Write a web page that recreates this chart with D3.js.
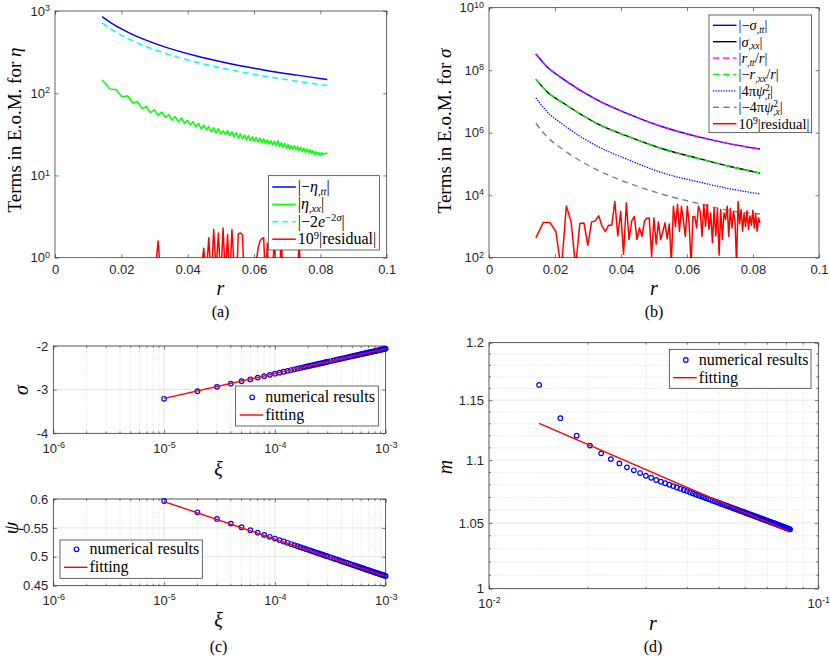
<!DOCTYPE html>
<html>
<head>
<meta charset="utf-8">
<script src="https://cdn.jsdelivr.net/npm/d3@7"></script>
<style>
  body { margin: 0; background: #fff; }
</style>
</head>
<body>
<div id="fig"></div>
<script>
// ---------- data ----------
// common r grid of the simulation (panels a, b, d)
const rGrid = [0.01420,0.01647,0.01846,0.02026,0.02191,0.02344,0.02488,0.02624,0.02753,0.02877,
  0.02995,0.03109,0.03219,0.03326,0.03428,0.03528,0.03626,0.03720,0.03813,0.03903,
  0.03991,0.04077,0.04162,0.04244,0.04326,0.04405,0.04484,0.04560,0.04636,0.04711,
  0.04784,0.04856,0.04927,0.04997,0.05066,0.05134,0.05202,0.05268,0.05334,0.05399,
  0.05463,0.05526,0.05588,0.05650,0.05712,0.05772,0.05832,0.05891,0.05950,0.06008,
  0.06066,0.06123,0.06180,0.06236,0.06291,0.06346,0.06401,0.06455,0.06509,0.06562,
  0.06615,0.06667,0.06719,0.06771,0.06822,0.06872,0.06923,0.06973,0.07022,0.07072,
  0.07121,0.07170,0.07218,0.07266,0.07314,0.07361,0.07408,0.07455,0.07502,0.07548,
  0.07594,0.07639,0.07685,0.07730,0.07775,0.07819,0.07864,0.07908,0.07952,0.07995,
  0.08039,0.08082,0.08125,0.08168,0.08210];

// (a) |eta_xx| (green, jagged)
const etaXX = [146,113,110,90,93,76,79,65,69,58,
  63,54,59,51,55,47,52,45,50,43,
  47,41,45,39,43,37,41,36,39,34,
  38,33,37,32,35,31.5,35,30.5,34,29.5,
  33,28.5,32,28,31,27,30.5,26.5,29.5,26,
  29,25.5,28.5,25,28,24.5,27,24,26.5,23.5,
  26,23,26.5,22.5,25,22,24.5,21.5,24,21,
  23,21,23,20.5,22.5,20,22,19.5,21.5,19,
  21,19,20.5,18.5,20,18,19.5,18,19,17.5,
  19,18,18.5,18.5,19];
// (a) 10^9 |residual|
const residualEta = [0.3,0.5,0.2,0.4,0.6,0.3,0.5,0.2,0.4,0.3,
  0.5,1.6,0.4,0.2,0.5,0.3,0.6,0.2,0.4,0.5,
  0.3,0.6,0.2,0.4,0.5,0.7,1.3,0.6,1.75,0.5,
  2.2,0.7,2.0,0.5,2.3,0.6,1.9,0.5,2.2,0.8,
  0.4,1.95,2.0,1.9,0.5,0.3,0.5,0.2,0.4,0.6,
  0.9,1.3,1.6,1.7,1.75,0.5,1.5,0.3,0.5,0.7,
  1.8,0.5,0.4,0.6,2.0,0.5,0.3,0.6,0.4,0.5,
  0.3,0.6,0.4,0.3,0.5,1.8,0.4,0.3,0.5,0.2,
  0.6,0.4,0.3,0.5,0.7,0.3,0.4,0.6,0.2,0.5,
  0.4,0.3,0.6,0.4,0.5];

// smooth curves, sampled at a few r
const rSmooth = [0.0142,0.0175,0.0225,0.0326,0.0427,0.0528,0.0629,0.073,0.0821];
const etaTT = [852,691,538,371,283,229,192,166,147];
const twoExpSigma = [715,580,452,312,238,193,162,140,124];
const sigmaTT = [3.3e8,1.32e8,5.2e7,1.14e7,3.8e6,1.52e6,7.6e5,4.4e5,3.0e5];
const sigmaXX = [5.2e7,2.1e7,8.9e6,2.0e6,7.2e5,3.0e5,1.55e5,8.3e4,5.1e4];
const rTToverR = [3.3e8,1.32e8,5.2e7,1.14e7,3.8e6,1.52e6,7.6e5,4.4e5,3.0e5];
const rXXoverR = [5.2e7,2.1e7,8.9e6,2.0e6,7.2e5,3.0e5,1.55e5,8.3e4,5.1e4];
const psiT2 = [1.3e7,4.8e6,1.8e6,3.8e5,1.3e5,5.1e4,2.75e4,1.6e4,1.1e4];
const psiX2 = [2.0e6,7.6e5,2.86e5,6.6e4,2.34e4,1.05e4,5.6e3,3.2e3,2.5e3];

// (b) 10^9 |residual|
const residualSigma = [430,1350,1350,690,40,4500,1400,50,1250,1300,
  250,1400,1500,2200,1000,690,1100,1100,6300,500,
  3000,130,5600,380,1500,2100,380,900,480,1500,
  1850,1850,110,1850,270,1400,380,690,1300,400,
  1200,70,4400,1000,5000,690,4400,1500,480,4400,
  1200,60,2100,2100,900,4400,3000,480,5000,1000,
  5000,800,2700,300,3800,500,3500,120,3500,380,
  2700,1700,4400,480,3800,900,3000,1500,60,6300,
  1200,3500,700,2600,1000,3200,800,2200,1100,3300,
  900,2500,700,1900,1300];

// (c) sigma and psi against xi
const xi = [1e-5,2e-5,3e-5,4e-5,5e-5,6e-5,7e-5,8e-5,9e-5,1.0e-4,
  1.1e-4,1.2e-4,1.3e-4,1.4e-4,1.5e-4,1.6e-4,1.7e-4,1.8e-4,1.9e-4,2.0e-4,
  2.1e-4,2.2e-4,2.3e-4,2.4e-4,2.5e-4,2.6e-4,2.7e-4,2.8e-4,2.9e-4,3.0e-4,
  3.2e-4,3.4e-4,3.6e-4,3.8e-4,4.0e-4,4.2e-4,4.4e-4,4.6e-4,4.8e-4,5.0e-4,
  5.2e-4,5.4e-4,5.6e-4,5.8e-4,6.0e-4,6.2e-4,6.4e-4,6.6e-4,6.8e-4,7.0e-4,
  7.2e-4,7.4e-4,7.6e-4,7.8e-4,8.0e-4,8.2e-4,8.4e-4,8.6e-4,8.8e-4,9.0e-4,
  9.2e-4,9.4e-4,9.6e-4,9.8e-4,1.0e-3];
const sigmaNum = [-3.210,-3.037,-2.936,-2.864,-2.808,-2.763,-2.724,-2.691,-2.661,-2.635,
  -2.611,-2.590,-2.569,-2.551,-2.534,-2.518,-2.503,-2.488,-2.475,-2.462,
  -2.450,-2.438,-2.427,-2.417,-2.406,-2.396,-2.387,-2.378,-2.369,-2.361,
  -2.345,-2.330,-2.315,-2.302,-2.289,-2.277,-2.265,-2.254,-2.243,-2.233,
  -2.223,-2.214,-2.205,-2.196,-2.188,-2.180,-2.172,-2.164,-2.156,-2.149,
  -2.142,-2.135,-2.128,-2.122,-2.116,-2.109,-2.104,-2.098,-2.092,-2.086,
  -2.081,-2.076,-2.070,-2.065,-2.060];
const psiNum = [0.5965,0.5770,0.5655,0.5574,0.5511,0.5460,0.5417,0.5379,0.5346,0.5316,
  0.5289,0.5265,0.5242,0.5221,0.5202,0.5184,0.5167,0.5150,0.5135,0.5121,
  0.5107,0.5094,0.5081,0.5069,0.5058,0.5047,0.5036,0.5026,0.5016,0.5006,
  0.4988,0.4971,0.4955,0.4940,0.4925,0.4912,0.4899,0.4886,0.4874,0.4862,
  0.4851,0.4841,0.4831,0.4821,0.4811,0.4802,0.4793,0.4784,0.4775,0.4768,
  0.4760,0.4752,0.4744,0.4737,0.4730,0.4723,0.4716,0.4710,0.4703,0.4697,
  0.4690,0.4685,0.4679,0.4673,0.4667];
const xiFit = [1e-5, 1e-3];
const sigmaFit = [-3.20, -2.06];
const psiFit = [0.5955, 0.4660];

// (d) m against r
const mNum = [1.1630,1.1347,1.1201,1.1119,1.1055,1.1008,1.0973,1.0941,1.0917,1.0895,
  1.0873,1.0857,1.0839,1.0825,1.0813,1.0801,1.0790,1.0779,1.0769,1.0759,
  1.0750,1.0741,1.0732,1.0724,1.0716,1.0709,1.0701,1.0694,1.0687,1.0681,
  1.0674,1.0668,1.0662,1.0656,1.0650,1.0645,1.0639,1.0634,1.0629,1.0624,
  1.0619,1.0614,1.0610,1.0605,1.0601,1.0596,1.0592,1.0588,1.0584,1.0580,
  1.0576,1.0572,1.0568,1.0564,1.0561,1.0557,1.0553,1.0550,1.0546,1.0543,
  1.0540,1.0536,1.0533,1.0530,1.0527,1.0524,1.0521,1.0518,1.0515,1.0512,
  1.0509,1.0506,1.0503,1.0501,1.0498,1.0495,1.0493,1.0490,1.0487,1.0485,
  1.0482,1.0480,1.0477,1.0475,1.0472,1.0470,1.0468,1.0465,1.0463,1.0461,
  1.0459,1.0456,1.0454,1.0452,1.0450];
const rFit = [0.0142, 0.0821];
const mFit = [1.1304, 1.0429];

// tick values
const xTicksAB = [0, 0.02, 0.04, 0.06, 0.08, 0.1];
const yTicksA = [1, 10, 100, 1000];
const yTicksB = [1e2, 1e4, 1e6, 1e8, 1e10];
const xiTicks = [1e-6, 1e-5, 1e-4, 1e-3];
const sigmaTicks = [-4, -3, -2];
const psiTicks = [0.45, 0.5, 0.55, 0.6];
const rTicksD = [0.01, 0.1];
const mTicks = [1, 1.05, 1.1, 1.15, 1.2];

// ---------- drawing ----------
const AX = "#262626";
const SANS = "'Liberation Sans', Arial, sans-serif";
const SERIF = "'Liberation Serif', 'Times New Roman', serif";
const BLUE = "#0000ff", GREEN = "#00ff00", CYAN = "#00ffff", RED = "#ff0000",
      MAG = "#ff00ff", GRAY = "#808080";
const LEGFONT = 15;

const svg = d3.select("#fig").append("svg")
  .attr("width", 830).attr("height", 658)
  .style("background", "#fff");

function zip(xs, ys) { return xs.map((x, i) => [x, ys[i]]); }

// text with simple math: parts = [[string, kind]]
// kinds: n normal, i italic, sub/subu subscript (subu sits under previous sup), sup/supi superscript
function mathText(sel, parts, size) {
  let shift = 0, lastSup = null;
  parts.forEach(([s, k]) => {
    const small = !(k === "n" || k === "i");
    const target = k.startsWith("sup") ? -0.34 * size : (k.startsWith("sub") ? 0.2 * size : 0);
    const ts = sel.append("tspan").text(s)
      .attr("dy", target - shift)
      .attr("font-size", small ? size * 0.66 : size)
      .attr("font-style", (k === "n" || k === "sup") ? "normal" : "italic");
    if (k === "subu" && lastSup) ts.attr("dx", -lastSup.node().getComputedTextLength());
    if (k.startsWith("sup")) lastSup = ts;
    shift = target;
  });
}

function powLabels(axisG) {
  axisG.selectAll(".tick text").each(function (d) {
    const t = d3.select(this);
    const e = Math.round(Math.log10(d));
    t.text(null);
    t.append("tspan").text("10");
    t.append("tspan").attr("dy", "-0.5em").attr("font-size", 9).text(e);
  });
}

let clipCount = 0;
function panel(o) {
  const id = "clip" + (clipCount++);
  svg.append("clipPath").attr("id", id).append("rect")
    .attr("x", o.l).attr("y", o.t).attr("width", o.r - o.l).attr("height", o.b - o.t);
  const p = {
    grid: svg.append("g"),
    data: svg.append("g").attr("clip-path", `url(#${id})`),
    marks: svg.append("g"),
    axes: svg.append("g")
  };
  const tl = 3.5;

  // grids
  if (o.gridX) {
    p.grid.selectAll(".gxm").data(o.gridX.minor).join("line")
      .attr("x1", d => o.x(d)).attr("x2", d => o.x(d)).attr("y1", o.t).attr("y2", o.b)
      .attr("stroke", "#c9c9c9").attr("stroke-width", 0.6).attr("stroke-dasharray", "1,1.6");
    p.grid.selectAll(".gxM").data(o.gridX.major).join("line")
      .attr("x1", d => o.x(d)).attr("x2", d => o.x(d)).attr("y1", o.t).attr("y2", o.b)
      .attr("stroke", "#e2e2e2").attr("stroke-width", 0.9);
  }
  if (o.gridY) {
    p.grid.selectAll(".gym").data(o.gridY.minor).join("line")
      .attr("y1", d => o.y(d)).attr("y2", d => o.y(d)).attr("x1", o.l).attr("x2", o.r)
      .attr("stroke", "#c9c9c9").attr("stroke-width", 0.6).attr("stroke-dasharray", "1,1.6");
    p.grid.selectAll(".gyM").data(o.gridY.major).join("line")
      .attr("y1", d => o.y(d)).attr("y2", d => o.y(d)).attr("x1", o.l).attr("x2", o.r)
      .attr("stroke", "#e2e2e2").attr("stroke-width", 0.9);
  }

  function style(g) {
    g.select(".domain").remove();
    g.selectAll(".tick line").attr("stroke", AX).attr("stroke-width", 0.6);
    g.selectAll(".tick text").attr("fill", AX).attr("font-size", 13).attr("font-family", SANS);
  }
  const bot = p.axes.append("g").attr("transform", `translate(0,${o.b})`)
    .call(d3.axisBottom(o.x).tickValues(o.xt).tickSize(-tl).tickSizeOuter(0)
      .tickPadding(o.xLog ? 10 : 7)
      .tickFormat(d => o.xLog ? d : String(d))).call(style);
  if (o.xLog) powLabels(bot);
  p.axes.append("g").attr("transform", `translate(0,${o.t})`)
    .call(d3.axisTop(o.x).tickValues(o.xt).tickSize(-tl).tickSizeOuter(0).tickFormat("")).call(style);
  const lef = p.axes.append("g").attr("transform", `translate(${o.l},0)`)
    .call(d3.axisLeft(o.y).tickValues(o.yt).tickSize(-tl).tickSizeOuter(0).tickPadding(5)
      .tickFormat(d => String(d))).call(style);
  if (o.yLog && !o.yPlain) powLabels(lef);
  p.axes.append("g").attr("transform", `translate(${o.r},0)`)
    .call(d3.axisRight(o.y).tickValues(o.yt).tickSize(-tl).tickSizeOuter(0).tickFormat("")).call(style);

  // minor ticks
  if (o.minorX) {
    [[o.b, -1], [o.t, 1]].forEach(([yy, s]) => {
      p.axes.selectAll(null).data(o.minorX).join("line")
        .attr("x1", d => o.x(d)).attr("x2", d => o.x(d)).attr("y1", yy).attr("y2", yy + s * 2)
        .attr("stroke", AX).attr("stroke-width", 0.6);
    });
  }
  if (o.minorY) {
    [[o.l, 1], [o.r, -1]].forEach(([xx, s]) => {
      p.axes.selectAll(null).data(o.minorY).join("line")
        .attr("y1", d => o.y(d)).attr("y2", d => o.y(d)).attr("x1", xx).attr("x2", xx + s * 2)
        .attr("stroke", AX).attr("stroke-width", 0.6);
    });
  }

  p.axes.append("rect").attr("x", o.l).attr("y", o.t)
    .attr("width", o.r - o.l).attr("height", o.b - o.t)
    .attr("fill", "none").attr("stroke", AX).attr("stroke-width", 0.7);
  return p;
}

function drawLine(p, o, pts, color, width, dash, curve) {
  const line = d3.line().x(d => o.x(d[0])).y(d => o.y(d[1])).curve(curve || d3.curveLinear);
  p.data.append("path").datum(pts).attr("d", line)
    .attr("fill", "none").attr("stroke", color).attr("stroke-width", width)
    .attr("stroke-dasharray", dash || null).attr("stroke-linejoin", "round");
}

function drawCircles(p, o, pts) {
  p.marks.selectAll(null).data(pts).join("circle")
    .attr("cx", d => o.x(d[0])).attr("cy", d => o.y(d[1])).attr("r", 2.3)
    .attr("fill", "none").attr("stroke", BLUE).attr("stroke-width", 1.2);
}

function legend(box, rows, rowH) {
  const g = svg.append("g");
  g.append("rect").attr("x", box.x).attr("y", box.y).attr("width", box.w).attr("height", box.h)
    .attr("fill", "#fff").attr("stroke", AX).attr("stroke-width", 0.7);
  rows.forEach((r, i) => {
    const cy = box.y + box.first + i * rowH;
    if (r.marker) {
      g.append("circle").attr("cx", box.x + 16.5).attr("cy", cy).attr("r", 2.3)
        .attr("fill", "none").attr("stroke", r.color).attr("stroke-width", 1.2);
    } else {
      g.append("line").attr("x1", box.x + 4).attr("x2", box.x + 27.5).attr("y1", cy).attr("y2", cy)
        .attr("stroke", r.color).attr("stroke-width", r.width || 1.5)
        .attr("stroke-dasharray", r.dash || null);
    }
    const size = box.font || LEGFONT;
    const t = g.append("text").attr("x", box.x + 29.5).attr("y", cy + 4.8)
      .attr("font-family", SERIF).attr("fill", "#000").attr("font-size", size);
    mathText(t, r.parts, size);
  });
}

function label(x, y, parts, size, rotate) {
  const t = svg.append("text").attr("font-family", SERIF).attr("fill", "#000")
    .attr("text-anchor", "middle").attr("font-size", size)
    .attr("transform", `translate(${x},${y})` + (rotate ? " rotate(-90)" : ""));
  mathText(t, parts, size);
}

// ---------- panel (a) ----------
const oA = { l: 55, r: 386.7, t: 11, b: 257.7 };
oA.x = d3.scaleLinear().domain([0, 0.1]).range([oA.l, oA.r]);
oA.y = d3.scaleLog().domain([1, 1000]).range([oA.b, oA.t]);
oA.xt = xTicksAB; oA.yt = yTicksA; oA.yLog = true;
const pA = panel(oA);
drawLine(pA, oA, zip(rSmooth, etaTT), BLUE, 1.5, null, d3.curveMonotoneX);
drawLine(pA, oA, zip(rGrid, etaXX), GREEN, 1.5);
drawLine(pA, oA, zip(rSmooth, twoExpSigma), CYAN, 1.5, "6,4", d3.curveMonotoneX);
drawLine(pA, oA, zip(rGrid, residualEta), RED, 1.5);
legend({ x: 268.3, y: 175.7, w: 111, h: 74.3, first: 11.3, font: 16 }, [
  { color: BLUE, parts: [["|−", "n"], ["η", "i"], [",tt", "sub"], ["|", "n"]] },
  { color: GREEN, parts: [["|", "n"], ["η", "i"], [",xx", "sub"], ["|", "n"]] },
  { color: CYAN, dash: "6,4", parts: [["|−2", "n"], ["e", "i"], ["−2", "sup"], ["σ", "supi"], ["|", "n"]] },
  { color: RED, parts: [["10", "n"], ["9", "sup"], ["|residual|", "n"]] }
], 17.4);
label(21, 130, [["Terms in E.o.M. for ", "n"], ["η", "i"]], 19, true);
label(220.5, 294.5, [["r", "i"]], 20);
label(220.5, 317, [["(a)", "n"]], 16);

// ---------- panel (b) ----------
const oB = { l: 489, r: 819, t: 7.7, b: 257.7 };
oB.x = d3.scaleLinear().domain([0, 0.1]).range([oB.l, oB.r]);
oB.y = d3.scaleLog().domain([1e2, 1e10]).range([oB.b, oB.t]);
oB.xt = xTicksAB; oB.yt = yTicksB; oB.yLog = true;
const pB = panel(oB);
drawLine(pB, oB, zip(rSmooth, sigmaTT), BLUE, 1.4, null, d3.curveMonotoneX);
drawLine(pB, oB, zip(rSmooth, sigmaXX), "#000", 1.4, null, d3.curveMonotoneX);
drawLine(pB, oB, zip(rSmooth, rTToverR), MAG, 1.4, "6,4", d3.curveMonotoneX);
drawLine(pB, oB, zip(rSmooth, rXXoverR), GREEN, 1.4, "6,4", d3.curveMonotoneX);
drawLine(pB, oB, zip(rSmooth, psiT2), BLUE, 1.3, "1.3,1.3", d3.curveMonotoneX);
drawLine(pB, oB, zip(rSmooth, psiX2), GRAY, 1.4, "6,4.5", d3.curveMonotoneX);
drawLine(pB, oB, zip(rGrid, residualSigma), RED, 1.5);
legend({ x: 709, y: 15, w: 102.7, h: 117.7, first: 10.3, font: 14.5 }, [
  { color: BLUE, width: 1.4, parts: [["|−", "n"], ["σ", "i"], [",tt", "sub"], ["|", "n"]] },
  { color: "#000", width: 1.4, parts: [["|", "n"], ["σ", "i"], [",xx", "sub"], ["|", "n"]] },
  { color: MAG, width: 1.4, dash: "6,4", parts: [["|", "n"], ["r", "i"], [",tt", "sub"], ["/", "n"], ["r", "i"], ["|", "n"]] },
  { color: GREEN, width: 1.4, dash: "6,4", parts: [["|−", "n"], ["r", "i"], [",xx", "sub"], ["/", "n"], ["r", "i"], ["|", "n"]] },
  { color: BLUE, width: 1.3, dash: "1.3,1.3", parts: [["|4π", "n"], ["ψ", "i"], ["2", "sup"], [",t", "subu"], ["|", "n"]] },
  { color: GRAY, width: 1.4, dash: "6,4.5", parts: [["|−4π", "n"], ["ψ", "i"], ["2", "sup"], [",x", "subu"], ["|", "n"]] },
  { color: RED, parts: [["10", "n"], ["9", "sup"], ["|residual|", "n"]] }
], 16.4);
label(451, 131, [["Terms in E.o.M. for ", "n"], ["σ", "i"]], 19, true);
label(654, 294.5, [["r", "i"]], 20);
label(654, 317, [["(b)", "n"]], 16);

// ---------- panel (c) ----------
const xiScale = d3.scaleLog().domain([1e-6, 1e-3]);
const xiMinor = xiScale.ticks().filter(d => !xiTicks.some(t => Math.abs(t - d) / t < 1e-6));
const oC1 = { l: 53.3, r: 385.7, t: 346, b: 433.3 };
oC1.x = xiScale.copy().range([oC1.l, oC1.r]);
oC1.y = d3.scaleLinear().domain([-4, -2]).range([oC1.b, oC1.t]);
oC1.xt = xiTicks; oC1.yt = sigmaTicks; oC1.xLog = true;
oC1.minorX = xiMinor;
oC1.gridX = { major: xiTicks, minor: xiMinor };
oC1.gridY = { major: sigmaTicks, minor: [] };
const pC1 = panel(oC1);
drawLine(pC1, oC1, zip(xiFit, sigmaFit), RED, 1.4);
drawCircles(pC1, oC1, zip(xi, sigmaNum));
pC1.marks.raise();
pC1.data.raise();
legend({ x: 235.7, y: 386, w: 142.6, h: 40, first: 11.3, font: 16 }, [
  { color: BLUE, marker: true, parts: [["numerical results", "n"]] },
  { color: RED, width: 1.4, parts: [["fitting", "n"]] }
], 17.7);
label(27.5, 390, [["σ", "i"]], 20, true);
label(218.5, 476, [["ξ", "i"]], 20);

const oC2 = { l: 53.3, r: 385.7, t: 499, b: 585.7 };
oC2.x = xiScale.copy().range([oC2.l, oC2.r]);
oC2.y = d3.scaleLinear().domain([0.45, 0.6]).range([oC2.b, oC2.t]);
oC2.xt = xiTicks; oC2.yt = psiTicks; oC2.xLog = true;
oC2.minorX = xiMinor;
oC2.gridX = { major: xiTicks, minor: xiMinor };
oC2.gridY = { major: psiTicks, minor: [] };
const pC2 = panel(oC2);
drawCircles(pC2, oC2, zip(xi, psiNum));
drawLine(pC2, oC2, zip(xiFit, psiFit), RED, 1.4);
pC2.data.raise();
legend({ x: 60, y: 540, w: 142.3, h: 38.3, first: 9.3, font: 16 }, [
  { color: BLUE, marker: true, parts: [["numerical results", "n"]] },
  { color: RED, width: 1.4, parts: [["fitting", "n"]] }
], 18);
label(18, 528, [["ψ", "i"]], 20, true);
label(218.5, 627, [["ξ", "i"]], 20);
label(218.5, 652, [["(c)", "n"]], 16);

// ---------- panel (d) ----------
const oD = { l: 489, r: 818.3, t: 342.7, b: 588.7 };
oD.x = d3.scaleLog().domain([0.01, 0.1]).range([oD.l, oD.r]);
oD.y = d3.scaleLog().domain([1, 1.2]).range([oD.b, oD.t]);
oD.xt = rTicksD; oD.yt = mTicks; oD.xLog = true; oD.yLog = true; oD.yPlain = true;
const rMinorD = oD.x.ticks().filter(d => d > 0.0101 && d < 0.099);
const mMinorD = d3.ticks(1, 1.2, 20).filter(d => !mTicks.some(t => Math.abs(t - d) < 1e-6));
oD.minorX = rMinorD; oD.minorY = mMinorD;
oD.gridX = { major: rTicksD, minor: rMinorD };
oD.gridY = { major: mTicks, minor: mMinorD };
const pD = panel(oD);
drawCircles(pD, oD, zip(rGrid, mNum));
drawLine(pD, oD, zip(rFit, mFit), RED, 1.4);
pD.data.raise();
legend({ x: 669.3, y: 349.3, w: 141.7, h: 39, first: 10.7, font: 16 }, [
  { color: BLUE, marker: true, parts: [["numerical results", "n"]] },
  { color: RED, width: 1.4, parts: [["fitting", "n"]] }
], 17.7);
label(451.5, 467, [["m", "i"]], 20, true);
label(653, 630, [["r", "i"]], 20);
label(653, 652, [["(d)", "n"]], 16);
</script>
</body>
</html>
